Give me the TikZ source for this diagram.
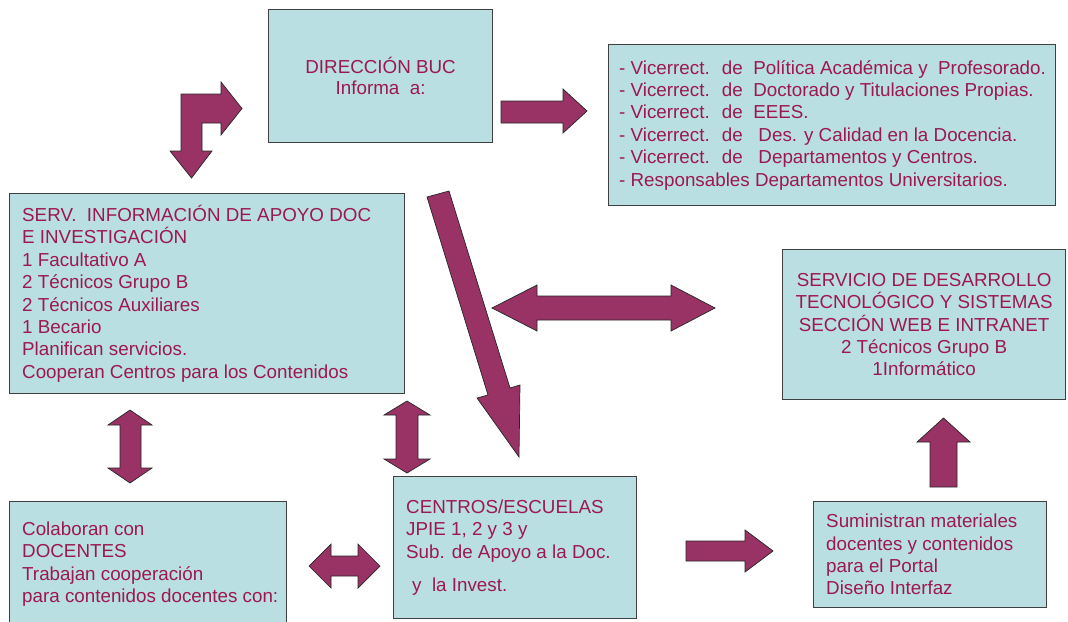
\documentclass[tikz,border=0pt]{standalone}
\usepackage{fontspec}
\setmainfont{Liberation Sans}
\usetikzlibrary{positioning}
\definecolor{boxfill}{RGB}{185,223,226}
\definecolor{txtcol}{RGB}{155,25,80}
\definecolor{arrfill}{RGB}{153,51,102}

\begin{document}
\begin{tikzpicture}[x=1pt, y=-1pt,
        box/.style={draw=black!75, line width=1.2pt, fill=boxfill, text=txtcol, anchor=north west, inner sep=0pt, font=\fontsize{18.8}{22.4}\selectfont},
        txt/.style={text=txtcol, align=left, inner sep=0pt, font=\fontsize{18.8}{22.4}\selectfont},
        barrow/.style={draw=black!85, line width=0.7pt, fill=arrfill, line join=miter}]
        \useasboundingbox (0,0) rectangle (1068,621);

        % boxes
        \node[box, minimum width=224pt, minimum height=133pt, align=center, font=\fontsize{18.8}{20.5}\selectfont] (dir) at (268,9) {DIRECCIÓN BUC\\Informa~ a:};
        \node[box, minimum width=447pt, minimum height=161pt] (vice) at (608,44) {};
        \node[txt, right=11pt of vice.west] (vicetxt) {- Vicerrect.~ de~ Política Académica y~ Profesorado.\\
            - Vicerrect.~ de~ Doctorado y Titulaciones Propias.\\
            - Vicerrect.~ de~ EEES.\\
            - Vicerrect.~ de~~ Des. y Calidad en la Docencia.\\
            - Vicerrect.~ de~~ Departamentos y Centros.\\
            - Responsables Departamentos Universitarios.};
        \node[box, minimum width=395pt, minimum height=200pt] (serv) at (9,193) {};
        \node[txt, right=13pt of serv.west] (servtxt) {SERV.~ INFORMACIÓN DE APOYO DOC\\
            E INVESTIGACIÓN\\
            1 Facultativo A\\
            2 Técnicos Grupo B\\
            2 Técnicos Auxiliares\\
            1 Becario\\
            Planifican servicios.\\
            Cooperan Centros para los Contenidos};
        \node[box, minimum width=283pt, minimum height=150pt, align=center] (sdt) at (782,249) {SERVICIO DE DESARROLLO\\TECNOLÓGICO Y SISTEMAS\\SECCIÓN WEB E INTRANET\\2 Técnicos Grupo B\\1Informático};
        \node[box, minimum width=277pt, minimum height=125pt] (cola) at (9,501) {};
        \node[txt, right=13pt of cola.west] (colatxt) {Colaboran con\\
            DOCENTES\\
            Trabajan cooperación\\
            para contenidos docentes con:};
        \node[box, minimum width=243pt, minimum height=142pt] (cent) at (393,476) {};
        \node[txt, right=13pt of cent.west] (centtxt) {CENTROS/ESCUELAS\\
            JPIE 1, 2 y 3 y\\
            Sub. de Apoyo a la Doc.\\[11pt]
            \hspace*{6pt}y~ la Invest.};
        \node[box, minimum width=233pt, minimum height=106pt] (sumi) at (813,501) {};
        \node[txt, right=13pt of sumi.west] (sumitxt) {Suministran materiales\\
            docentes y contenidos\\
            para el Portal\\
            Diseño Interfaz};

        % block arrows
        \draw[barrow] (181,94) -- (221,94) -- (221,82) -- (242,108.5) -- (221,135) -- (221,123) -- (202,123) -- (202,151)
            -- (212,151) -- (191.5,178) -- (170,151) -- (181,151) -- cycle;
        \draw[barrow] (501,101) -- (563,101) -- (563,89) -- (587,111) -- (563,133) -- (563,123) -- (501,123) -- cycle;
        \draw[barrow] (427,197) -- (449,191) -- (510,388) -- (520,385) -- (519,457) -- (477,398) -- (488,395) -- cycle;
        \draw[barrow] (492,308) -- (537,285) -- (537,296) -- (671,296) -- (671,285) -- (715,308) -- (671,331)
            -- (671,320) -- (537,320) -- (537,331) -- cycle;
        \draw[barrow] (130,410) -- (152,425) -- (141,425) -- (141,468) -- (152,468) -- (130,483) -- (108,468)
            -- (120,468) -- (120,425) -- (108,425) -- cycle;
        \draw[barrow] (407,401) -- (430,415) -- (418,415) -- (418,459) -- (430,459) -- (407,473) -- (384,459)
            -- (396,459) -- (396,415) -- (384,415) -- cycle;
        \draw[barrow] (309,566) -- (331,544) -- (331,556) -- (358,556) -- (358,544) -- (380,566) -- (358,588)
            -- (358,576) -- (331,576) -- (331,588) -- cycle;
        \draw[barrow] (686,541) -- (745,541) -- (745,530) -- (773,551) -- (745,572) -- (745,561) -- (686,561) -- cycle;
        \draw[barrow] (943.5,418) -- (970,442) -- (957,442) -- (957,487) -- (930,487) -- (930,442) -- (917,442) -- cycle;
\end{tikzpicture}
\end{document}
